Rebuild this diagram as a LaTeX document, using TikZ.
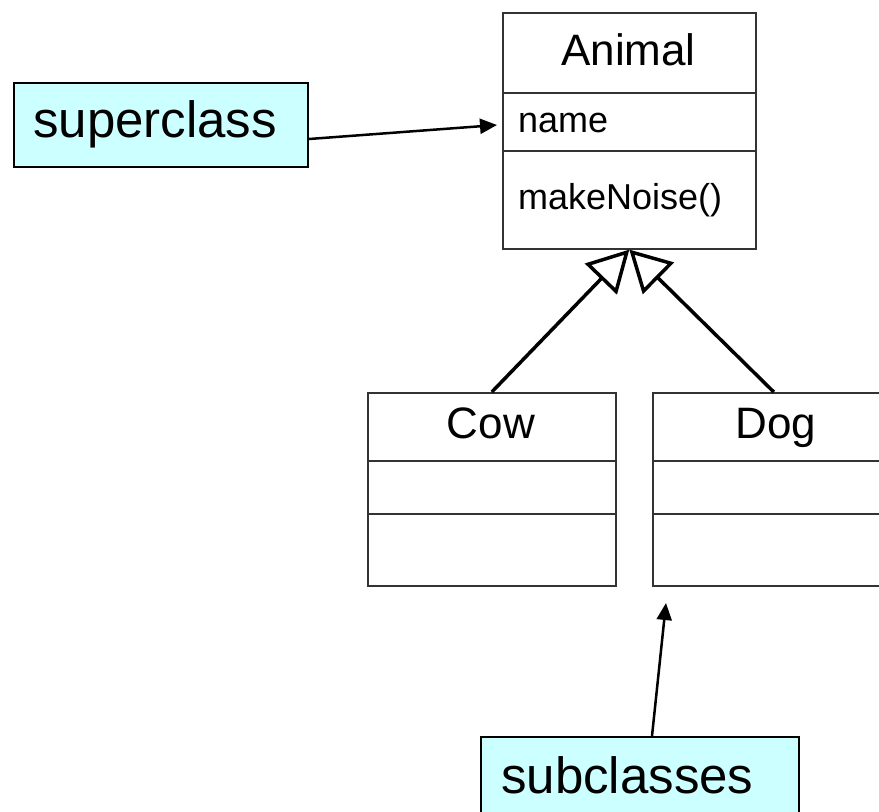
\documentclass[tikz,border=0pt]{standalone}
\usepackage{fontspec}
\setmainfont{Liberation Sans}
\usetikzlibrary{arrows.meta}
\definecolor{notecyan}{HTML}{CCFFFF}
\definecolor{umlline}{HTML}{333333}
\begin{document}
\begin{tikzpicture}[x=1pt,y=-1pt,
  classbox/.style={draw=umlline, line width=1.6pt, fill=white, inner sep=0pt, anchor=north west},
  divider/.style={draw=umlline, line width=1.6pt},
  notebox/.style={draw=black, line width=2pt, fill=notecyan, inner sep=0pt, anchor=north west},
  bigtext/.style={font=\fontsize{51}{51}\selectfont, anchor=base west, inner sep=0pt},
  titletext/.style={font=\fontsize{44}{44}\selectfont, anchor=base, inner sep=0pt},
  membertext/.style={font=\fontsize{36}{36}\selectfont, anchor=base west, inner sep=0pt},
  inherit/.style={line width=3.5pt, -{Triangle[open, length=41pt, width=44pt, fill=white]}},
  pointer/.style={line width=2.5pt, -{Triangle[length=17pt, width=15pt]}}]
\useasboundingbox (0,0) rectangle (879,812);
\clip (0,0) rectangle (879,812);

% superclass: Animal
\node[classbox, minimum width=253pt, minimum height=236pt] (animal) at (502,12) {};
\draw[divider] (animal.west |- 0,93) -- (animal.east |- 0,93);
\draw[divider] (animal.west |- 0,151) -- (animal.east |- 0,151);
\node[titletext] (animaltitle) at (628.5,65) {Animal};
\node[membertext] (animalattr) at (518,132) {name};
\node[membertext] (animalop) at (518,209) {makeNoise()};

% subclasses: Cow and Dog
\node[classbox, minimum width=248pt, minimum height=193pt] (cow) at (367,392) {};
\draw[divider] (cow.west |- 0,461) -- (cow.east |- 0,461);
\draw[divider] (cow.west |- 0,514) -- (cow.east |- 0,514);
\node[titletext] (cowtitle) at (491,438) {Cow};

\node[classbox, minimum width=248pt, minimum height=193pt] (dog) at (652,392) {};
\draw[divider] (dog.west |- 0,461) -- (dog.east |- 0,461);
\draw[divider] (dog.west |- 0,514) -- (dog.east |- 0,514);
\node[titletext] (dogtitle) at (776,438) {Dog};

% generalisation arrows
\draw[inherit] (cow.north) -- (animal.south);
\draw[inherit] ([xshift=-3pt]dog.north) -- (animal.south);

% callout labels
\node[notebox, minimum width=294pt, minimum height=84pt] (super) at (13,82) {};
\node[bigtext] (supertext) at (33,137) {superclass};
\node[notebox, minimum width=318pt, minimum height=84pt] (sub) at (480,736) {};
\node[bigtext] (subtext) at (501,793) {subclasses};

\coordinate (supertip) at (497,125);
\coordinate (subtip) at (666,603);
\draw[pointer] ([yshift=-14pt]super.east) -- (supertip);
\draw[pointer] ([xshift=12pt]sub.north) -- (subtip);
\end{tikzpicture}
\end{document}
